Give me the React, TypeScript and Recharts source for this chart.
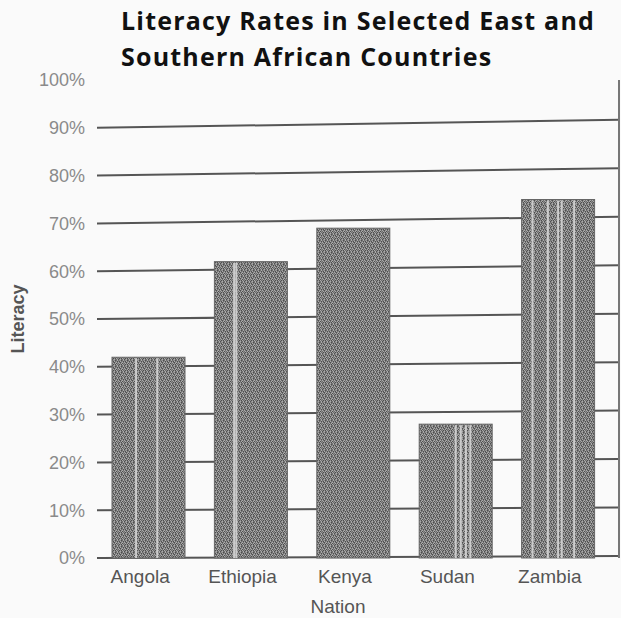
import React from "react";
import { BarChart, Bar, XAxis, YAxis, CartesianGrid, Label } from "recharts";

const nations = ["Angola", "Ethiopia", "Kenya", "Sudan", "Zambia"];
const literacy = [42, 62, 69, 28, 75];
const yTicks = [0, 10, 20, 30, 40, 50, 60, 70, 80, 90, 100];
const gridValues = [0, 10, 20, 30, 40, 50, 60, 70, 80, 90];

const data = nations.map((nation, i) => ({ nation, literacy: literacy[i] }));

// scanned-paper look: light stripes inside each bar, as fractions of bar width
const stripes: number[][] = [
  [0.33, 0.62],
  [0.27, 0.3],
  [],
  [0.5, 0.57, 0.64, 0.7],
  [0.15, 0.36, 0.5, 0.55, 0.72],
];

const NOISE = ["201312", "312020", "023131", "130213", "203120", "311302"];
const SHADES = ["#4e4e4e", "#6e6e6e", "#8c8c8c", "#ababab"];

const TexturedBar = (props: any) => {
  const { x, y, width, height, index } = props;
  return (
    <g>
      <rect x={x} y={y} width={width} height={height} fill="url(#noise)" stroke="#666" strokeWidth={1} />
      {(stripes[index] || []).map((f, i) => (
        <line
          key={i}
          x1={x + width * f}
          x2={x + width * f}
          y1={y + 1}
          y2={y + height}
          stroke="#cccccc"
          strokeWidth={2}
        />
      ))}
    </g>
  );
};

const TiltedLine = (props: any) => {
  const { x1, x2, y1, y2 } = props;
  const tilt = 2 + (6 * Math.max(0, 558 - y1)) / 430;
  return <line x1={x1} x2={x2} y1={y1} y2={y2 - tilt} stroke="#555" strokeWidth={2} />;
};

export default function App() {
  return (
    <div style={{ position: "absolute", left: 0, top: 0, width: 621, height: 618, background: "#fafafa" }}>
      <div
        style={{
          position: "absolute",
          left: 121,
          top: 2,
          fontFamily: "'Open Sans', sans-serif",
          fontWeight: 700,
          fontSize: 25,
          letterSpacing: 1.2,
          lineHeight: "36px",
          color: "#111",
          whiteSpace: "nowrap",
          zIndex: 2,
        }}
      >
        Literacy Rates in Selected East and
        <br />
        Southern African Countries
      </div>
      <BarChart
        width={621}
        height={618}
        data={data}
        margin={{ top: 80, right: 0, bottom: 0, left: 0 }}
        barSize={73}
      >
        <defs>
          <pattern id="noise" width={6} height={6} patternUnits="userSpaceOnUse">
            {NOISE.map((row, r) =>
              row.split("").map((c, col) => (
                <rect key={`${r}-${col}`} x={col} y={r} width={1} height={1} fill={SHADES[Number(c)]} />
              ))
            )}
          </pattern>
        </defs>
        <CartesianGrid vertical={false} horizontalValues={gridValues} horizontal={TiltedLine} />
        <XAxis
          dataKey="nation"
          height={60}
          axisLine={false}
          tickLine={false}
          padding={{ left: 0, right: 10 }}
          tick={{ fill: "#555", fontSize: 19, fontFamily: "Liberation Sans, Arial, sans-serif", dx: -8 }}
          tickMargin={6}
        >
          <Label
            value="Nation"
            position="insideBottom"
            offset={5}
            dx={-20}
            style={{ fill: "#555", fontSize: 19, fontFamily: "Liberation Sans, Arial, sans-serif" }}
          />
        </XAxis>
        <YAxis
          width={97}
          domain={[0, 100]}
          ticks={yTicks}
          interval={0}
          axisLine={false}
          tickLine={false}
          tickMargin={6}
          tickFormatter={(v) => `${v}%`}
          tick={{ fill: "#8a8a8a", fontSize: 18, fontFamily: "Liberation Sans, Arial, sans-serif" }}
        >
          <Label
            value="Literacy"
            angle={-90}
            position="insideLeft"
            offset={18}
            style={{
              fill: "#555",
              fontSize: 18,
              fontWeight: 700,
              fontFamily: "Liberation Sans, Arial, sans-serif",
              textAnchor: "middle",
            }}
          />
        </YAxis>
        <YAxis
          yAxisId="frame"
          orientation="right"
          width={2}
          tick={false}
          tickLine={false}
          axisLine={{ stroke: "#777", strokeWidth: 2 }}
        />
        <Bar dataKey="literacy" shape={TexturedBar} isAnimationActive={false} />
      </BarChart>
    </div>
  );
}
